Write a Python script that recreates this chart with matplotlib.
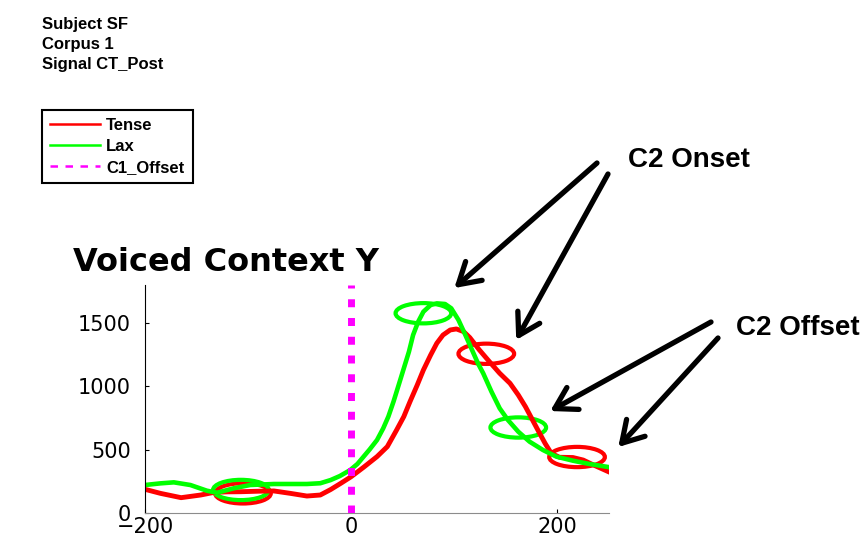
import matplotlib

matplotlib.use("Agg")
import matplotlib.pyplot as plt
from matplotlib.lines import Line2D
from matplotlib.patches import Ellipse

# Tense track (time in ms, value)
tense_t = [-200, -185, -165, -146, -133, -120, -107, -90, -75, -59, -43, -30, -20, -10,
           0, 12, 25, 35, 44, 51, 57, 64, 70, 77, 83, 89, 96, 102, 109, 115, 124,
           134, 144, 154, 162, 169, 175, 181, 188, 194, 202, 215, 225, 235, 250]
tense = [187, 155, 121, 142, 163, 167, 168, 172, 174, 155, 134, 142, 185, 235,
         287, 361, 445, 524, 655, 761, 879, 1010, 1129, 1247, 1340, 1405, 1445, 1453, 1432, 1385, 1290,
         1195, 1103, 1024, 932, 839, 747, 655, 550, 471, 440, 438, 418, 379, 324]

# Lax track
lax_t = [-200, -185, -172, -156, -140, -130, -114, -98, -75, -43, -30, -20, -11,
         -1, 6, 12, 18, 25, 31, 36, 41, 46, 51, 56, 60, 65, 70, 77, 83, 91, 97,
         104, 110, 117, 123, 128, 136, 144, 152, 162, 173, 186, 199, 215, 231, 250]
lax = [221, 234, 242, 221, 176, 160, 195, 221, 229, 229, 235, 260, 292,
       339, 387, 445, 503, 576, 668, 761, 879, 1010, 1142, 1274, 1405, 1511, 1589, 1642, 1655, 1650, 1616,
       1524, 1418, 1290, 1180, 1103, 958, 826, 734, 642, 563, 497, 445, 413, 387, 362]

c1_offset = 0

# landmark rings
rings_x = [-105, -107, 70, 131, 162, 219]
rings_y = [155, 182, 1577, 1257, 675, 442]
rings_c = ["red", "lime", "lime", "red", "lime", "red"]

# arrow tips in data units, tails in figure pixels
onset_tips = [(100, 1776), (160, 1366)]
onset_tails = [(597, 370), (608, 359)]
offset_tips = [(193, 805), (259, 521)]
offset_tails = [(711, 211), (718, 195)]

W, H = 865, 533
fig = plt.figure(figsize=(W / 100, H / 100), dpi=100)
ax = fig.add_axes([145 / W, 20 / H, 464 / W, 228 / H])

ax.plot(tense_t, tense, color="red", lw=3.5, solid_joinstyle="round")
ax.plot(lax_t, lax, color="lime", lw=3.3, solid_joinstyle="round")
for x, y, c in zip(rings_x, rings_y, rings_c):
    ax.add_patch(Ellipse((x, y), 54, 160, fill=False, edgecolor=c, lw=3))
ax.axvline(c1_offset, color="magenta", lw=5, linestyle=(0, (1.15, 1.55)), zorder=5)

ax.set_xlim(-200, 250)
ax.set_ylim(0, 1800)
ax.set_xticks([-200, 0, 200])
ax.set_yticks([0, 500, 1000, 1500])
for s in ("top", "right"):
    ax.spines[s].set_visible(False)
ax.spines["left"].set_color("black")
ax.spines["bottom"].set_color("0.55")
ax.tick_params(direction="in", length=3, labelsize=15, pad=10)
ax.tick_params(axis="x", pad=3)

fig.text(226 / W, 1 - 263 / H, "Voiced Context Y", ha="center", va="center",
         fontsize=23, fontweight="heavy", family="DejaVu Sans")

for i, line in enumerate(["Subject SF", "Corpus 1", "Signal CT_Post"]):
    fig.text(42 / W, 1 - (29 + 20 * i) / H, line, fontsize=12,
             fontweight="bold", family="Liberation Sans", va="baseline")

handles = [Line2D([], [], color="red", lw=1.8),
           Line2D([], [], color="lime", lw=1.8),
           Line2D([], [], color="magenta", lw=1.8, linestyle=(0, (3, 3)))]
leg = fig.legend(handles, ["Tense", "Lax", "C1_Offset"], loc="upper left",
                 bbox_to_anchor=(42 / W, 1 - 110 / H), frameon=True, fancybox=False,
                 edgecolor="black", framealpha=1, handlelength=3, handletextpad=0.35,
                 borderpad=0.5, labelspacing=0.35, borderaxespad=0,
                 prop={"family": "Liberation Sans", "weight": "bold", "size": 12})
leg.get_frame().set_linewidth(1.5)

arrow_kw = dict(arrowstyle="->,head_length=0.75,head_width=0.45", color="black",
                lw=3.8, mutation_scale=20, shrinkA=0, shrinkB=0)
for tip, tail in zip(onset_tips + offset_tips, onset_tails + offset_tails):
    ax.annotate("", xy=tip, xycoords="data", xytext=tail, textcoords="figure pixels",
                arrowprops=arrow_kw, annotation_clip=False)

fig.text(628 / W, 1 - 160 / H, "C2 Onset", fontsize=20, fontweight="bold",
         family="Liberation Sans", va="center")
fig.text(736 / W, 1 - 328 / H, "C2 Offset", fontsize=20, fontweight="bold",
         family="Liberation Sans", va="center")

fig.savefig("out.png", dpi=100)
